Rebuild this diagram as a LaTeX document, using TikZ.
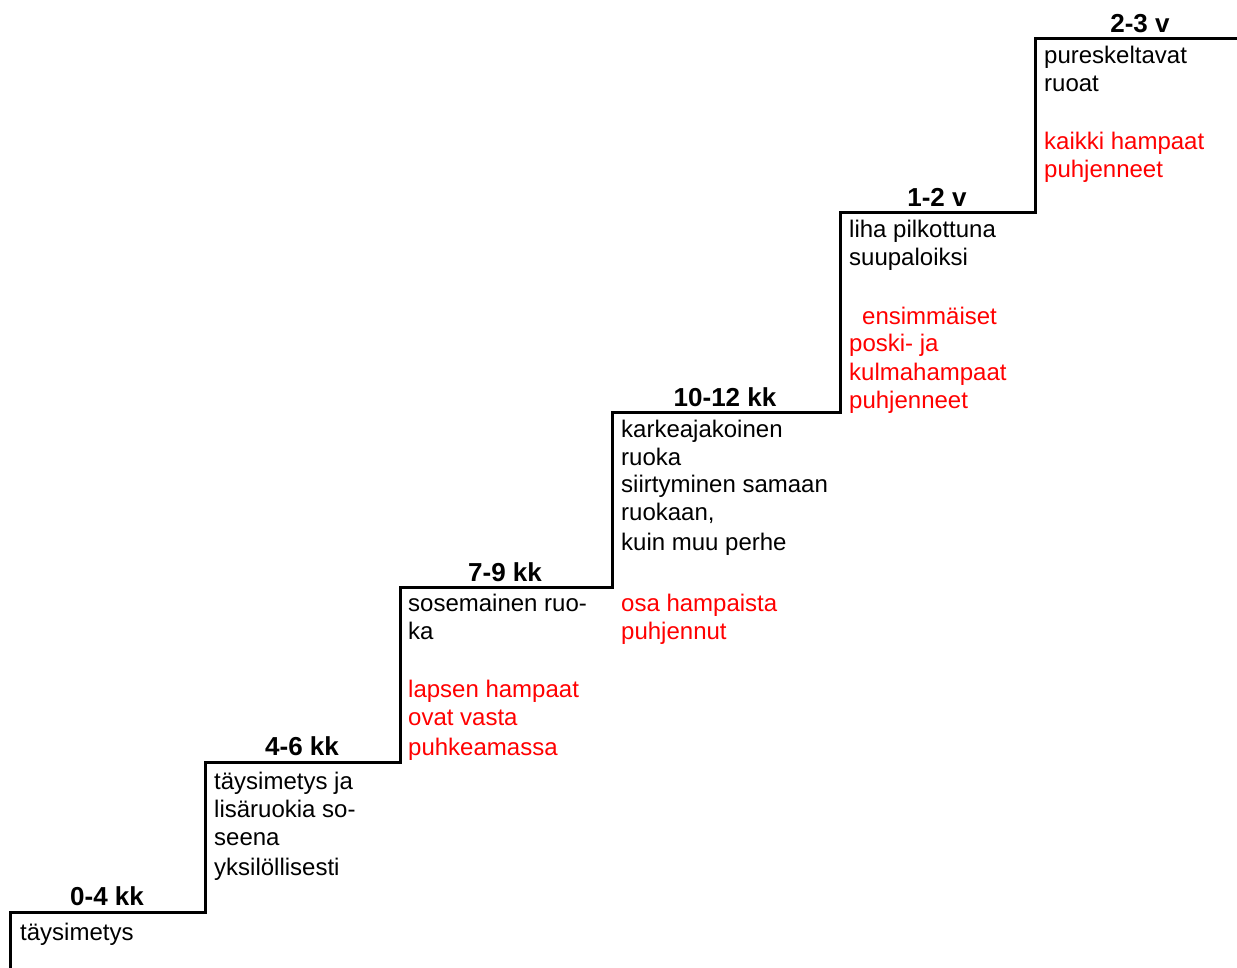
\documentclass[tikz,border=0pt]{standalone}
\usepackage{fontspec}
\setmainfont{Liberation Sans}
\definecolor{tred}{RGB}{255,0,0}
\begin{document}
\begin{tikzpicture}[x=1pt,y=-1pt,
  txt/.style={anchor=base west,inner sep=0pt,font=\fontsize{24}{28}\selectfont},
  rtxt/.style={txt,text=tred},
  lbl/.style={anchor=base,inner sep=0pt,font=\fontsize{26}{30}\selectfont\bfseries},
  stair/.style={line width=3pt,line join=miter}]
\useasboundingbox (0,0) rectangle (1237,968);
\draw[stair] (10,968) -- (10,912) -- (205,912) -- (205,762) -- (400,762) -- (400,587)
  -- (612,587) -- (612,412) -- (840,412) -- (840,213) -- (1035,213) -- (1035,39) -- (1240,39);
% step 1
\node[lbl] (l1) at (107,905) {0-4 kk};
\node[txt] (a1) at (20,940) {täysimetys};
% step 2
\node[lbl] (l2) at (302,755) {4-6 kk};
\node[txt] (b1) at (214,789) {täysimetys ja};
\node[txt] (b2) at (214,817) {lisäruokia so-};
\node[txt] (b3) at (214,845) {seena};
\node[txt] (b4) at (214,875) {yksilöllisesti};
% step 3
\node[lbl] (l3) at (505,581) {7-9 kk};
\node[txt] (c1) at (408,611) {sosemainen ruo-};
\node[txt] (c2) at (408,639) {ka};
\node[rtxt] (c3) at (408,697) {lapsen hampaat};
\node[rtxt] (c4) at (408,725) {ovat vasta};
\node[rtxt] (c5) at (408,755) {puhkeamassa};
% step 4
\node[lbl] (l4) at (725,406) {10-12 kk};
\node[txt] (d1) at (621,437) {karkeajakoinen};
\node[txt] (d2) at (621,465) {ruoka};
\node[txt] (d3) at (621,492) {siirtyminen samaan};
\node[txt] (d4) at (621,520) {ruokaan,};
\node[txt] (d5) at (621,550) {kuin muu perhe};
\node[rtxt] (d6) at (621,611) {osa hampaista};
\node[rtxt] (d7) at (621,639) {puhjennut};
% step 5
\node[lbl] (l5) at (937,207) {1-2 v};
\node[txt] (e1) at (849,238) {liha pilkottuna};
\node[txt] (e2) at (849,266) {suupaloiksi};
\node[rtxt] (e3) at (862,324) {ensimmäiset};
\node[rtxt] (e4) at (849,352) {poski- ja};
\node[rtxt] (e5) at (849,380) {kulmahampaat};
\node[rtxt] (e6) at (849,408) {puhjenneet};
% step 6
\node[lbl] (l6) at (1140,33) {2-3 v};
\node[txt] (f1) at (1044,64) {pureskeltavat};
\node[txt] (f2) at (1044,92) {ruoat};
\node[rtxt] (f3) at (1044,150) {kaikki hampaat};
\node[rtxt] (f4) at (1044,178) {puhjenneet};
\end{tikzpicture}
\end{document}
